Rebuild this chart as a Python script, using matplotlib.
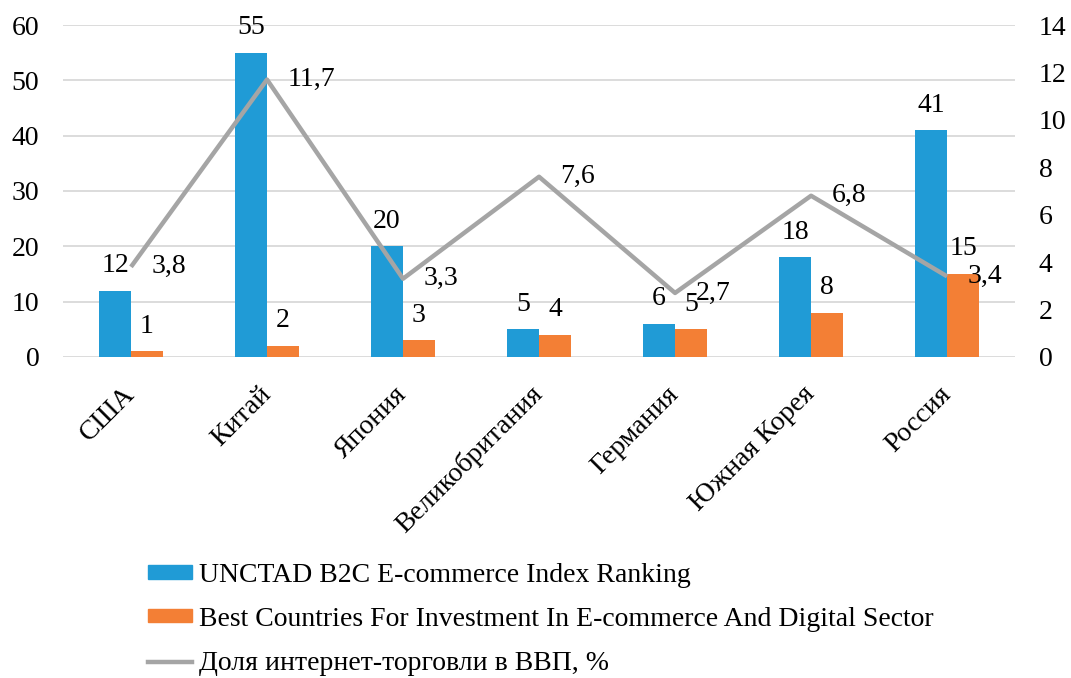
import matplotlib.pyplot as plt
import numpy as np
from matplotlib.patches import Patch
from matplotlib.lines import Line2D

plt.rcParams['font.family'] = ['Liberation Serif', 'DejaVu Serif']

countries = ['США', 'Китай', 'Япония', 'Великобритания', 'Германия', 'Южная Корея', 'Россия']
unctad_rank = [12, 55, 20, 5, 6, 18, 41]
invest_rank = [1, 2, 3, 4, 5, 8, 15]
ecom_share = [3.8, 11.7, 3.3, 7.6, 2.7, 6.8, 3.4]

label_unctad = 'UNCTAD B2C E-commerce Index Ranking'
label_invest = 'Best Countries For Investment In E-commerce And Digital Sector'
label_share = 'Доля интернет-торговли в ВВП, %'

c_blue = '#209BD6'
c_orange = '#F37F35'
c_gray = '#A5A5A5'
fs = 20

fig = plt.figure(figsize=(10.71, 6.78), dpi=100)
ax = fig.add_axes([0.0588, 0.4735, 0.889, 0.4896])
ax2 = ax.twinx()

x = np.arange(len(countries))
w = 0.235
b1 = ax.bar(x - w / 2, unctad_rank, w, color=c_blue, zorder=2)
b2 = ax.bar(x + w / 2, invest_rank, w, color=c_orange, zorder=2)

# value labels above every bar
for rect, v in zip(list(b1) + list(b2), unctad_rank + invest_rank):
    ax.annotate(str(v), (rect.get_x() + rect.get_width() / 2, rect.get_height()),
                xytext=(0, 9), textcoords='offset points',
                ha='center', va='bottom', fontsize=fs)

ax2.plot(x, ecom_share, color=c_gray, lw=3.2, solid_capstyle='butt')
for xi, v in zip(x, ecom_share):
    ax2.annotate(str(v).replace('.', ','), (xi, v), xytext=(15, 0),
                 textcoords='offset points', ha='left', va='center', fontsize=fs)

ax.set_xlim(-0.5, len(countries) - 0.5)
ax.set_ylim(0, 60)
ax.set_yticks(range(0, 61, 10))
ax2.set_ylim(0, 14)
ax2.set_yticks(range(0, 15, 2))

ax.yaxis.grid(True, color='#D9D9D9', lw=1.3, zorder=0)
ax.set_axisbelow(True)
for a in (ax, ax2):
    for s in a.spines.values():
        s.set_visible(False)
    a.tick_params(length=0, labelsize=fs)
ax.tick_params(axis='y', pad=17)
ax2.tick_params(axis='y', pad=17)

ax.set_xticks(x)
ax.set_xticklabels(countries, rotation=45, ha='right', va='center',
                   rotation_mode='anchor')
ax.tick_params(axis='x', pad=24)

handles = [Patch(color=c_blue), Patch(color=c_orange),
           Line2D([], [], color=c_gray, lw=3.2)]
fig.legend(handles, [label_unctad, label_invest, label_share],
           loc='upper left', bbox_to_anchor=(148 / 1071, 1 - 563 / 678),
           frameon=False, fontsize=fs, handlelength=1.6, handleheight=0.35,
           handletextpad=0.25, labelspacing=0.68, borderpad=0, borderaxespad=0)

fig.savefig('out.png', dpi=100)
